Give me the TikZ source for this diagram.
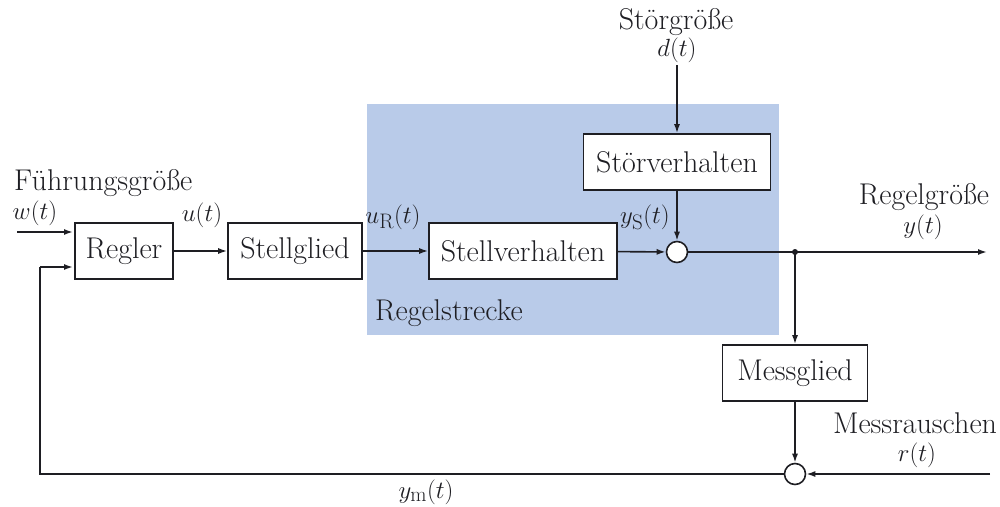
\documentclass[tikz,border=0pt]{standalone}
\usepackage{fontspec}
\usetikzlibrary{arrows.meta}
\definecolor{plantblue}{RGB}{185,203,233}
\definecolor{ink}{RGB}{30,30,35}
\begin{document}
\begin{tikzpicture}[x=1pt,y=-1pt,
  font=\fontsize{30}{35}\selectfont,
  every node/.style={text=ink},
  block/.style={draw=ink,line width=1.6pt,fill=white,minimum height=56pt,inner sep=0pt},
  sumpt/.style={circle,draw=ink,line width=1.6pt,fill=white,minimum size=21pt,inner sep=0pt},
  sig/.style={draw=ink,line width=1.6pt,-{Latex[length=9pt,width=6pt]}},
  wire/.style={draw=ink,line width=1.6pt},
  lbl/.style={inner sep=0pt}]
\useasboundingbox (0,0) rectangle (1000,506);
% controlled system area
\fill[plantblue] (367,104) rectangle (779,335);
\node[lbl,anchor=west] (streckelbl) at (375,313) {Regelstrecke};

% blocks
\node[block,minimum width=98pt]  (regler) at (124,251) {Regler};
\node[block,minimum width=134pt] (stell)  at (295,251) {Stellglied};
\node[block,minimum width=188pt] (sv)     at (523,251) {Stellverhalten};
\node[block,minimum width=187pt] (stoer)  at (677,162) {Störverhalten};
\node[block,minimum width=145pt] (mess)   at (795,373) {Messglied};
\node[sumpt] (sum1) at (677,252) {};
\node[sumpt] (sum2) at (795,474) {};

% free ends and corners
\coordinate (win)    at (17,232);
\coordinate (rin)    at (73,232);
\coordinate (rfb)    at (73,267);
\coordinate (dtop)   at (677,65);
\coordinate (branch) at (795,252);
\coordinate (yout)   at (987,252);
\coordinate (rnoise) at (990,474);
\coordinate (fbcorner) at (40,474);
\coordinate (fbup)   at (40,267);

% signal flow
\draw[sig] (win) -- (rin);
\draw[sig] (regler) -- (stell);
\draw[sig] (stell) -- (sv);
\draw[sig] (sv) -- (sum1);
\draw[sig] (dtop) -- (stoer);
\draw[sig] (stoer) -- (sum1);
\draw[sig] (sum1) -- (yout);
\fill[ink] (branch) circle (3pt);
\draw[sig] (branch) -- (mess);
\draw[sig] (mess) -- (sum2);
\draw[sig] (rnoise) -- (sum2);
\draw[wire] (sum2) -- (fbcorner) -- (fbup);
\draw[sig] (fbup) -- (rfb);

% signal labels
\node[lbl,anchor=west] (fgl) at (14,183) {Führungsgröße};
\node[lbl] (wl)  at (35,213) {$w(t)$};
\node[lbl] (ul)  at (202,215) {$u(t)$};
\node[lbl] (url) at (393,217) {$u_{\mathrm{R}}(t)$};
\node[lbl] (ysl) at (645,217) {$y_{\mathrm{S}}(t)$};
\node[lbl] (sgl) at (676,22) {Störgröße};
\node[lbl] (dl)  at (677,50) {$d(t)$};
\node[lbl] (rgl) at (924,197) {Regelgröße};
\node[lbl] (yl)  at (923,227) {$y(t)$};
\node[lbl] (mrl) at (915,423) {Messrauschen};
\node[lbl] (rl)  at (917,455) {$r(t)$};
\node[lbl] (yml) at (426,492) {$y_{\mathrm{m}}(t)$};
\end{tikzpicture}
\end{document}
